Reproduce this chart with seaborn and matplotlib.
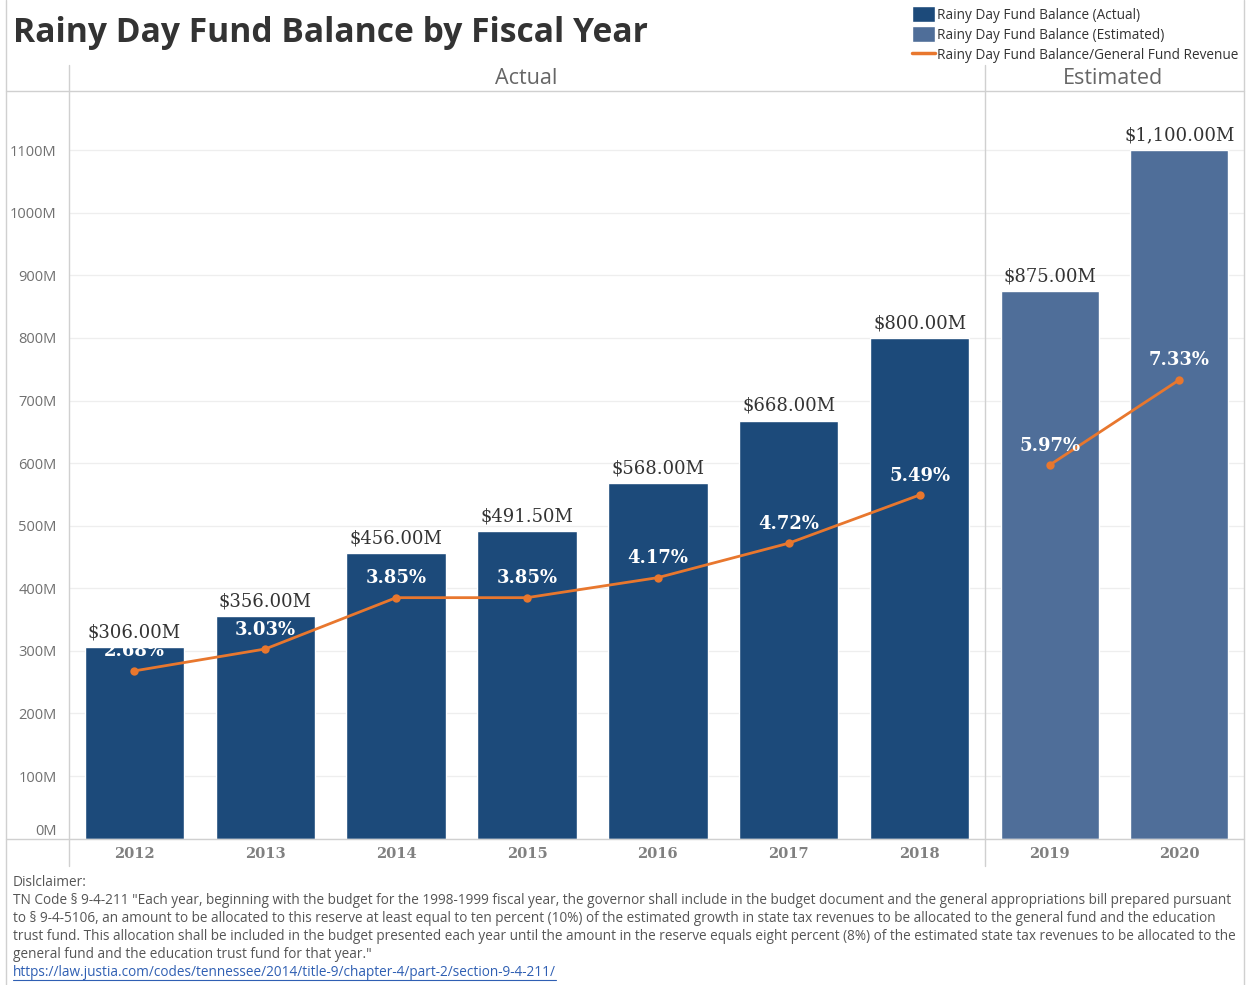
import numpy as np
import pandas as pd
import matplotlib
matplotlib.use("Agg")
import matplotlib.pyplot as plt
import seaborn as sns
from matplotlib.patches import Patch
from matplotlib.lines import Line2D

# %%
# data
actual_years = ["2012", "2013", "2014", "2015", "2016", "2017", "2018"]
actual_balance = [306.0, 356.0, 456.0, 491.5, 568.0, 668.0, 800.0]
actual_pct = [2.68, 3.03, 3.85, 3.85, 4.17, 4.72, 5.49]

est_years = ["2019", "2020"]
est_balance = [875.0, 1100.0]
est_pct = [5.97, 7.33]

y_ticks = [0, 100, 200, 300, 400, 500, 600, 700, 800, 900, 1000, 1100]

disclaimer_lines = [
    "Dislclaimer:",
    'TN Code § 9-4-211 "Each year, beginning with the budget for the 1998-1999 fiscal year, the governor shall include in the budget document and the general appropriations bill prepared pursuant',
    "to § 9-4-5106, an amount to be allocated to this reserve at least equal to ten percent (10%) of the estimated growth in state tax revenues to be allocated to the general fund and the education",
    "trust fund. This allocation shall be included in the budget presented each year until the amount in the reserve equals eight percent (8%) of the estimated state tax revenues to be allocated to the",
    'general fund and the education trust fund for that year."',
]
link_text = "https://law.justia.com/codes/tennessee/2014/title-9/chapter-4/part-2/section-9-4-211/"

# %%
# style
sns.set_style("white")
plt.rcParams["font.family"] = ["Open Sans", "DejaVu Sans"]

col_actual = "#1c4a7a"
col_est = "#4f6e99"
col_line = "#e8772e"
grid_col = "#eeeeee"
frame_col = "#d0d0d0"
serif = ["DejaVu Serif"]

W, H = 1248, 985
fig = plt.figure(figsize=(W / 100, H / 100), dpi=100)


def fx(px):
    return px / W


def fy(py):
    return 1 - py / H


ymax = 1193
ax_bottom = fy(838.6)
ax_height = fy(92) - ax_bottom

ax_a = fig.add_axes([fx(69), ax_bottom, fx(985) - fx(69), ax_height])
ax_e = fig.add_axes([fx(985), ax_bottom, fx(1244) - fx(985), ax_height])

panels = [
    (ax_a, actual_years, actual_balance, actual_pct, col_actual),
    (ax_e, est_years, est_balance, est_pct, col_est),
]

for ax, years, bal, pct, col in panels:
    df = pd.DataFrame({"year": years, "balance": bal, "pct": pct})
    sns.barplot(data=df, x="year", y="balance", color=col, width=0.76,
                saturation=1, ax=ax, zorder=2)
    ax.set_ylim(0, ymax)
    ax.set_xlim(-0.5, len(years) - 0.5)
    ax.set_yticks(y_ticks)
    ax.yaxis.grid(True, color=grid_col, lw=0.9, zorder=0)
    ax.set_axisbelow(True)
    for s in ax.spines.values():
        s.set_visible(False)
    ax.set_xlabel("")
    ax.set_ylabel("")
    ax.tick_params(axis="x", length=0, pad=6, labelsize=10.5, labelcolor="#808080")
    for lab in ax.get_xticklabels():
        lab.set_fontfamily(serif)
        lab.set_fontweight("bold")

    # value labels above bars
    ax.bar_label(ax.containers[0], labels=[f"${v:,.2f}M" for v in bal],
                 padding=4, fontsize=13, color="#333333", fontfamily=serif)

    # ratio line on a hidden twin axis
    ax2 = ax.twinx()
    sns.pointplot(data=df, x="year", y="pct", color=col_line, markers="o",
                  markersize=4.5, linewidth=2, errorbar=None, ax=ax2)
    ax2.set_ylim(0, ymax / 100)
    ax2.set_xlim(-0.5, len(years) - 0.5)
    ax2.set_yticks([])
    ax2.set_ylabel("")
    ax2.set_xlabel("")
    for s in ax2.spines.values():
        s.set_visible(False)
    for i, p in enumerate(pct):
        ax2.annotate(f"{p:.2f}%", (i, p), xytext=(0, 14), textcoords="offset points",
                     ha="center", va="center", fontsize=13, fontweight="bold",
                     color="white", fontfamily=serif)

# y tick labels only on the left panel
ax_a.set_yticklabels([f"{t}M" for t in y_ticks])
ax_a.tick_params(axis="y", length=0, pad=9, labelsize=10.5, labelcolor="#707070")
ax_a.get_yticklabels()[0].set_va("bottom")
ax_e.tick_params(axis="y", length=0, labelleft=False)

# %%
# frame lines like the dashboard
frame = [
    ((6, 6), (0, 985)),
    ((1244, 1244), (0, 985)),
    ((6, 1244), (91, 91)),
    ((6, 1244), (838.6, 838.6)),
    ((69, 69), (65, 866)),
    ((985, 985), (65, 866)),
]
for xs, ys in frame:
    fig.add_artist(Line2D([fx(x) for x in xs], [fy(y) for y in ys],
                          color=frame_col, lw=1))

# title and panel headers
fig.text(fx(13), fy(33), "Rainy Day Fund Balance by Fiscal Year", fontsize=24.2,
         fontweight="bold", color="#333333", va="center", ha="left")
fig.text(fx(526), fy(78), "Actual", fontsize=15.5, color="#666666",
         ha="center", va="center")
fig.text(fx(1113), fy(78), "Estimated", fontsize=15.5, color="#666666",
         ha="center", va="center")

# legend
handles = [
    Patch(facecolor=col_actual, label="Rainy Day Fund Balance (Actual)"),
    Patch(facecolor=col_est, label="Rainy Day Fund Balance (Estimated)"),
    Line2D([0], [0], color=col_line, lw=2.5,
           label="Rainy Day Fund Balance/General Fund Revenue"),
]
fig.legend(handles=handles, loc="upper left", bbox_to_anchor=(fx(902), fy(-4)),
           frameon=False, fontsize=9.8, handlelength=1.7, handleheight=1.4,
           handletextpad=0.15, labelspacing=0.28, borderpad=0.25,
           labelcolor="#333333")

# disclaimer
for k, line in enumerate(disclaimer_lines):
    fig.text(fx(13), fy(883 + 18 * k), line, fontsize=9.85, color="#555555",
             ha="left", va="center")
link = fig.text(fx(13), fy(883 + 18 * 5), link_text, fontsize=9.85,
                color="#2f5fb3", ha="left", va="center")

fig.canvas.draw()
bb = link.get_window_extent()
fig.add_artist(Line2D([bb.x0 / W, bb.x1 / W], [(bb.y0 + 1) / H, (bb.y0 + 1) / H],
                      color="#2f5fb3", lw=0.8))

fig.savefig("out.png", dpi=100)
